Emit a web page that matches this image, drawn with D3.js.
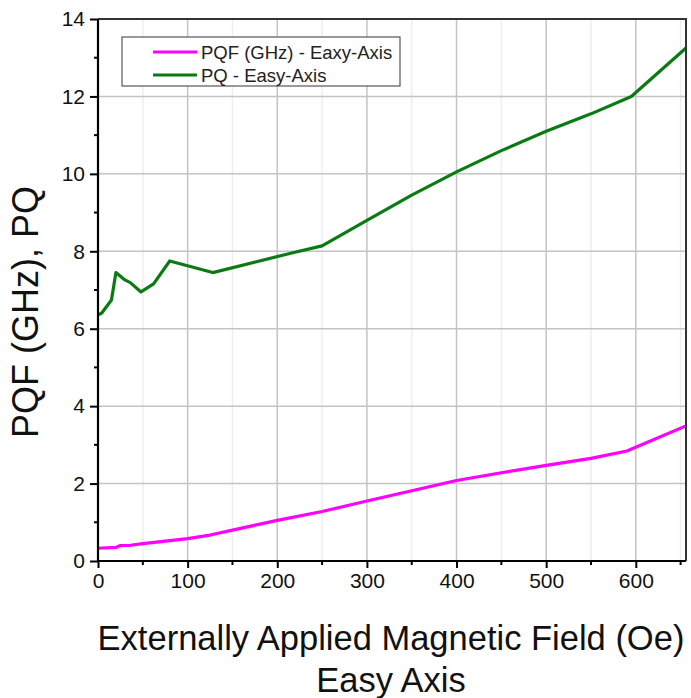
<!DOCTYPE html>
<html>
<head>
<meta charset="utf-8">
<script src="https://cdn.jsdelivr.net/npm/d3@7/dist/d3.min.js"></script>
<style>
  html, body { margin: 0; padding: 0; background: #fff; }
  svg { display: block; font-family: "Liberation Sans", Arial, sans-serif; }
</style>
</head>
<body>
<svg id="chart" width="691" height="698"></svg>
<script>
// Applied field (Oe) and measured values for each series
const pqfField = [0, 20, 25, 35, 40, 50, 100, 125, 200, 250, 300, 400, 450, 500, 550, 590, 656];
const pqfValue = [0.33, 0.35, 0.40, 0.40, 0.42, 0.45, 0.58, 0.67, 1.05, 1.28, 1.55, 2.08, 2.28, 2.47, 2.65, 2.84, 3.49];

const pqField = [0, 4, 15, 20, 30, 36, 48, 62, 80, 128, 215, 250, 300, 350, 400, 450, 500, 550, 595, 656];
const pqValue = [6.36, 6.4, 6.74, 7.45, 7.26, 7.19, 6.95, 7.16, 7.75, 7.45, 7.95, 8.14, 8.8, 9.45, 10.05, 10.6, 11.1, 11.55, 12.0, 13.25];

const xTicks = [0, 100, 200, 300, 400, 500, 600];
const xMinorTicks = [50, 150, 250, 350, 450, 550, 650];
const yTicks = [0, 2, 4, 6, 8, 10, 12, 14];
const yMinorTicks = [1, 3, 5, 7, 9, 11, 13];

const seriesNames = ["PQF (GHz) - Eaxy-Axis", "PQ - Easy-Axis"];
const seriesColors = ["#ff00ff", "#0a7a14"];

(function draw() {
  const svg = d3.select("#chart");
  const mL = 98, mR = 686, mT = 19, mB = 561;
  const font = "Liberation Sans, Arial, sans-serif";

  const x = d3.scaleLinear().domain([0, 656]).range([mL, mR]);
  const y = d3.scaleLinear().domain([0, 14]).range([mB, mT]);

  const plot = svg.append("g");

  // faint minor grid
  plot.selectAll("line.vminor").data(xMinorTicks).join("line")
    .attr("class", "vminor")
    .attr("x1", d => x(d)).attr("x2", d => x(d)).attr("y1", mT).attr("y2", mB)
    .attr("stroke", "#eeeeee").attr("stroke-width", 1.5);

  // major grid
  plot.selectAll("line.vgrid").data(xTicks.filter(d => d > 0)).join("line")
    .attr("class", "vgrid")
    .attr("x1", d => x(d)).attr("x2", d => x(d)).attr("y1", mT).attr("y2", mB)
    .attr("stroke", "#c4c4c4").attr("stroke-width", 1.5);
  plot.selectAll("line.hgrid").data(yTicks.filter(d => d > 0 && d < 14)).join("line")
    .attr("class", "hgrid")
    .attr("x1", mL).attr("x2", mR).attr("y1", d => y(d)).attr("y2", d => y(d))
    .attr("stroke", "#c4c4c4").attr("stroke-width", 1.5);

  // series lines
  const line = d3.line().x(d => x(d[0])).y(d => y(d[1]));
  const series = [
    d3.zip(pqfField, pqfValue),
    d3.zip(pqField, pqValue)
  ];
  series.forEach((pts, i) => {
    plot.append("path").datum(pts)
      .attr("d", line)
      .attr("fill", "none")
      .attr("stroke", seriesColors[i])
      .attr("stroke-width", 3.2)
      .attr("stroke-linejoin", "round");
  });

  // frame (top and right)
  svg.append("path")
    .attr("d", `M${mL},${mT}H${mR}V${mB}`)
    .attr("fill", "none").attr("stroke", "#333").attr("stroke-width", 2);

  // axes
  const xAxis = d3.axisBottom(x).tickValues(xTicks).tickSize(7).tickPadding(5).tickFormat(d3.format("d"));
  const gx = svg.append("g").attr("transform", `translate(0,${mB})`).call(xAxis);
  gx.selectAll(".tick line").attr("stroke", "#000").attr("stroke-width", 2);
  gx.select(".domain").attr("stroke", "#000").attr("stroke-width", 2.2)
    .attr("d", `M${mL},0H${mR}`);
  gx.selectAll("text").attr("font-size", 21).attr("fill", "#111").attr("font-family", font);
  gx.selectAll("line.minor").data(xMinorTicks.filter(d => d < 656)).join("line")
    .attr("class", "minor")
    .attr("x1", d => x(d)).attr("x2", d => x(d)).attr("y1", 0).attr("y2", 4)
    .attr("stroke", "#000").attr("stroke-width", 2);

  const yAxis = d3.axisLeft(y).tickValues(yTicks).tickSize(8).tickPadding(5);
  const gy = svg.append("g").attr("transform", `translate(${mL},0)`).call(yAxis);
  gy.selectAll(".tick line").attr("stroke", "#000").attr("stroke-width", 2);
  gy.select(".domain").attr("stroke", "#000").attr("stroke-width", 2.2)
    .attr("d", `M0,${mT}V${mB}`);
  gy.selectAll("text").attr("font-size", 21).attr("fill", "#111").attr("font-family", font);
  gy.selectAll("line.minor").data(yMinorTicks).join("line")
    .attr("class", "minor")
    .attr("x1", 0).attr("x2", -4).attr("y1", d => y(d)).attr("y2", d => y(d))
    .attr("stroke", "#000").attr("stroke-width", 2);

  // axis titles
  svg.append("text")
    .attr("x", 391).attr("y", 650)
    .attr("text-anchor", "middle").attr("font-size", 34.5).attr("fill", "#111")
    .text("Externally Applied Magnetic Field (Oe)");
  svg.append("text")
    .attr("x", 391).attr("y", 692)
    .attr("text-anchor", "middle").attr("font-size", 34.5).attr("fill", "#111")
    .text("Easy Axis");
  svg.append("text")
    .attr("transform", "translate(38,312) rotate(-90)")
    .attr("text-anchor", "middle").attr("font-size", 36).attr("fill", "#111")
    .text("PQF (GHz), PQ");

  // legend
  const lg = svg.append("g");
  lg.append("rect")
    .attr("x", 122).attr("y", 37).attr("width", 278).attr("height", 49)
    .attr("fill", "#fff").attr("stroke", "#555").attr("stroke-width", 1.2);
  seriesNames.forEach((name, i) => {
    const ly = 52 + i * 23;
    lg.append("line")
      .attr("x1", 153).attr("x2", 197).attr("y1", ly).attr("y2", ly)
      .attr("stroke", seriesColors[i]).attr("stroke-width", 3.2);
    lg.append("text")
      .attr("x", 201).attr("y", ly + 6.5)
      .attr("font-size", 18.5).attr("fill", "#222")
      .text(name);
  });
})();
</script>
</body>
</html>
